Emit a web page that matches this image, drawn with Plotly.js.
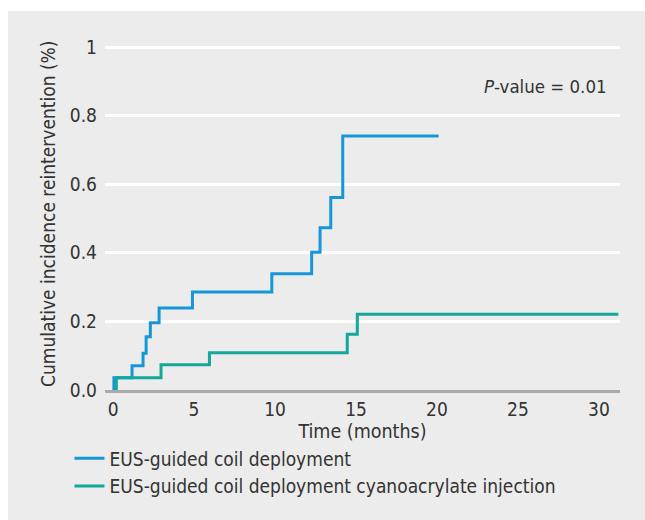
<!DOCTYPE html>
<html>
<head>
<meta charset="utf-8">
<script src="https://cdn.plot.ly/plotly-3.0.1.min.js"></script>
<style>
  html, body { margin: 0; padding: 0; background: #ffffff; }
  #chart { position: absolute; left: 8px; top: 11px; width: 637px; height: 509px; }
</style>
</head>
<body>
<div id="chart"></div>
<script>
// Cumulative incidence of reintervention
const coilTime = [0, 0.05, 1.17, 1.85, 2.04, 2.3, 2.84, 4.9, 9.8, 12.26, 12.78, 13.44, 14.18, 20.1];
const coilCIF  = [0, 0.036, 0.071, 0.107, 0.155, 0.196, 0.239, 0.286, 0.339, 0.402, 0.473, 0.561, 0.741, 0.741];

const comboTime = [0, 0.2, 2.96, 5.95, 14.46, 15.08, 31.2];
const comboCIF  = [0, 0.036, 0.074, 0.109, 0.163, 0.221, 0.221];

const seriesNames = ["EUS-guided coil deployment", "EUS-guided coil deployment cyanoacrylate injection"];
const xTickVals = [0, 5, 10, 15, 20, 25, 30];
const yTickVals = [0, 0.2, 0.4, 0.6, 0.8, 1];
const yTickText = ["0.0", "0.2", "0.4", "0.6", "0.8", "1"];
const xTitle = "Time (months)";
const yTitle = "Cumulative incidence reintervention (%)";
const pValueText = "<i>P</i>-value = 0.01";

const FONT = "DejaVu Sans Condensed, Liberation Sans, sans-serif";
const TXT = "#333333";

const traces = [
  { x: coilTime, y: coilCIF, name: seriesNames[0], type: "scatter", mode: "lines",
    line: { shape: "hv", color: "#1797da", width: 3 } },
  { x: comboTime, y: comboCIF, name: seriesNames[1], type: "scatter", mode: "lines",
    line: { shape: "hv", color: "#13a89b", width: 3 } }
];

const layout = {
  width: 637, height: 509,
  paper_bgcolor: "#ebeceb", plot_bgcolor: "#ebeceb",
  margin: { l: 10, r: 25, t: 34, b: 10 },
  font: { family: FONT, color: TXT, size: 19 },
  xaxis: {
    domain: [0.1445, 1],
    range: [-0.5, 31.3], tickvals: xTickVals, ticks: "", showgrid: false, zeroline: false,
    showline: true, linecolor: "#aaaaaa", linewidth: 3,
    tickfont: { family: FONT, size: 19, color: TXT },
    title: { text: xTitle, font: { family: FONT, size: 19.5, color: TXT }, standoff: 5 },
    automargin: false
  },
  yaxis: {
    domain: [0.258, 1],
    range: [0, 1.006], tickvals: yTickVals, ticktext: yTickText, ticks: "",
    showgrid: true, gridcolor: "#ffffff", gridwidth: 3, zeroline: false, showline: false,
    tickfont: { family: FONT, size: 19, color: TXT }, ticklabelstandoff: 7,
    automargin: false
  },
  showlegend: true,
  legend: {
    x: 0.0855, y: 0.1516, xanchor: "left", yanchor: "top", orientation: "v",
    bgcolor: "rgba(0,0,0,0)", itemwidth: 30, tracegroupgap: 0,
    font: { family: FONT, size: 19, color: TXT }
  },
  annotations: [
    { text: yTitle, xref: "paper", yref: "paper", x: 0.0498, y: 0.6366, textangle: -90,
      xanchor: "center", yanchor: "middle", showarrow: false,
      font: { family: FONT, size: 19, color: TXT } },
    { text: pValueText, xref: "x", yref: "y", x: 30.6, y: 0.886, xanchor: "right", yanchor: "middle",
      showarrow: false, font: { family: FONT, size: 18.5, color: TXT } }
  ]
};

Plotly.newPlot("chart", traces, layout, { displayModeBar: false, staticPlot: true });
</script>
</body>
</html>
